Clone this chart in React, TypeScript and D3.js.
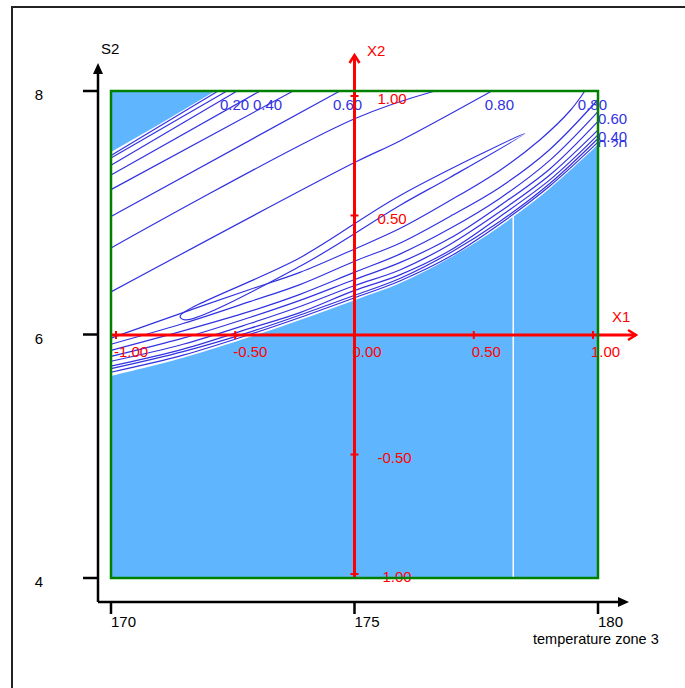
import React from "react";
import * as d3 from "d3";

// natural axes
const tempTicks = [170, 175, 180];
const s2Ticks = [4, 6, 8];
// coded axes X1 / X2
const codedTicks = [-1, -0.5, 0, 0.5, 1];

// edge of the white (defined) region, lower side
const edgeTemp = [170, 171.48, 172.85, 173.88, 174.99, 175.93, 176.96, 177.99, 179.01, 180];
const edgeS2 = [5.66, 5.81, 5.98, 6.12, 6.28, 6.42, 6.63, 6.89, 7.2, 7.56];
// blue corner top-left
const cornerEdge = [[170, 7.5], [171.01, 7.73], [172.14, 8]];
// white column inside the blue part
const gapLine = [[178.26, 4], [178.26, 7.0]];

// contour lines above the ridge (left edge -> top edge)
const upperLevels = [0.1, 0.2, 0.3, 0.4, 0.5, 0.6, 0.7, 0.8];
const upperLines = [
  [[170, 7.47], [172.2, 8]],
  [[170, 7.45], [172.38, 8]],
  [[170, 7.39], [172.59, 8]],
  [[170, 7.31], [173.06, 8]],
  [[170, 7.19], [173.74, 8]],
  [[170, 6.97], [174.7, 8]],
  [[170, 6.71], [174.99, 7.77], [176.65, 8]],
  [[170, 6.35], [174.99, 7.41], [175.93, 7.59], [177.82, 8]],
];

// contour lines below the ridge, same temperatures as edgeTemp
const lowerLevels = [0.1, 0.2, 0.3, 0.4, 0.5, 0.6, 0.7];
const lowerS2 = [
  [5.69, 5.83, 6.0, 6.14, 6.3, 6.44, 6.64, 6.91, 7.22, 7.58],
  [5.72, 5.86, 6.02, 6.16, 6.32, 6.46, 6.67, 6.93, 7.24, 7.61],
  [5.74, 5.88, 6.05, 6.18, 6.36, 6.49, 6.69, 6.97, 7.27, 7.64],
  [5.78, 5.92, 6.09, 6.23, 6.4, 6.53, 6.74, 7.01, 7.31, 7.68],
  [5.82, 5.97, 6.14, 6.28, 6.45, 6.59, 6.79, 7.06, 7.36, 7.75],
  [5.87, 6.03, 6.19, 6.33, 6.51, 6.66, 6.87, 7.12, 7.43, 7.83],
  [5.92, 6.09, 6.27, 6.41, 6.6, 6.75, 6.97, 7.21, 7.52, 7.93],
];
const lower08 = [[170, 5.97], [171.48, 6.18], [172.85, 6.37], [173.88, 6.51], [174.99, 6.7],
  [175.93, 6.87], [176.96, 7.1], [177.99, 7.35], [178.81, 7.6], [179.43, 7.84], [179.73, 8]];

// closed 0.90 contour along the ridge
const ridgeLoop = [[171.42, 6.15], [173.88, 6.63], [175.93, 7.14], [178.5, 7.65],
  [176.96, 7.29], [175.93, 7.06], [173.88, 6.56], [171.52, 6.12]];

const labelLevels = [0.2, 0.4, 0.6, 0.8];

const FONT = "'Liberation Sans', Arial, sans-serif";
const BLUE = "#3232e2";
const FILL = "#5fb6fe";
const RED = "#ff0000";

export default function App() {
  const x = d3.scaleLinear().domain([170, 180]).range([111, 598]);
  const y = d3.scaleLinear().domain([4, 8]).range([578, 91]);
  const x1 = d3.scaleLinear().domain([-1, 1]).range([116, 593]);
  const x2 = d3.scaleLinear().domain([-1, 1]).range([574, 96]);

  const line = d3.line<number[]>().x((d) => x(d[0])).y((d) => y(d[1])).curve(d3.curveCatmullRom);
  const loopLine = d3.line<number[]>().x((d) => x(d[0])).y((d) => y(d[1])).curve(d3.curveCatmullRomClosed);
  const straight = d3.line<number[]>().x((d) => x(d[0])).y((d) => y(d[1]));
  const lowerArea = d3.area<number>()
    .x((d, i) => x(edgeTemp[i]))
    .y0(y(4))
    .y1((d) => y(d))
    .curve(d3.curveCatmullRom);
  const cornerArea = d3.area<number[]>().x((d) => x(d[0])).y0((d) => y(d[1])).y1(y(8));

  const contours: { level: number; pts: number[][] }[] = [];
  upperLines.forEach((pts, i) => contours.push({ level: upperLevels[i], pts }));
  lowerS2.forEach((row, i) =>
    contours.push({ level: lowerLevels[i], pts: row.map((s, j) => [edgeTemp[j], s]) })
  );
  contours.push({ level: 0.8, pts: lower08 });

  const top = y(8);
  const right = x(180);
  const x0 = x1(0);
  const y0 = x2(0);

  return (
    <svg width={685} height={688} style={{ position: "absolute", left: 0, top: 0, background: "#fff" }}
      fontFamily={FONT}>
      <defs>
        <clipPath id="lblclip">
          <rect x={0} y={0} width={685} height={147} />
        </clipPath>
      </defs>
      {/* outer frame */}
      <path d="M12,688 V7 H685" fill="none" stroke="#222" strokeWidth={2} />

      {/* blue undefined region */}
      <path d={lowerArea(edgeS2) || ""} fill={FILL} />
      <path d={cornerArea(cornerEdge) || ""} fill={FILL} />
      <path d={straight(gapLine) || ""} stroke="#fff" strokeWidth={1.5} />

      {/* contour lines */}
      {contours.map((c, i) => (
        <path key={i} d={line(c.pts) || ""} fill="none" stroke={BLUE} strokeWidth={1.2} />
      ))}
      <path d={loopLine(ridgeLoop) || ""} fill="none" stroke={BLUE} strokeWidth={1.2} />

      {/* contour labels */}
      {contours.filter((c) => labelLevels.includes(c.level)).map((c, i) => {
        const end = c.pts[c.pts.length - 1];
        const ex = x(end[0]);
        const ey = y(end[1]);
        const atTop = end[1] >= 7.99;
        return (
          <text key={i} x={atTop ? ex - 7 : right} y={atTop ? top + 19 : ey + 12}
            fontSize={15} fill={BLUE} clipPath={atTop ? undefined : "url(#lblclip)"}>
            {c.level.toFixed(2)}
          </text>
        );
      })}

      {/* coded axes */}
      <line x1={x(170)} x2={636} y1={y0} y2={y0} stroke={RED} strokeWidth={3} />
      <path d={`M${628},${y0 - 5} L${636},${y0} L${628},${y0 + 5}`} fill="none" stroke={RED} strokeWidth={2.5} />
      <line x1={x0} x2={x0} y1={y(4)} y2={55} stroke={RED} strokeWidth={3} />
      <path d={`M${x0 - 5},${63} L${x0},${55} L${x0 + 5},${63}`} fill="none" stroke={RED} strokeWidth={2.5} />
      {codedTicks.map((t) => (
        <g key={"c" + t}>
          <line x1={x1(t)} x2={x1(t)} y1={y0 - 4} y2={y0 + 4} stroke={RED} strokeWidth={2} />
          <text x={x1(t) - 2} y={y0 + 22} fontSize={15} fill={RED}>{t.toFixed(2)}</text>
          <line x1={x0 - 4} x2={x0 + 4} y1={x2(t)} y2={x2(t)} stroke={RED} strokeWidth={2} />
          {t !== 0 && (
            <text x={x0 + 23} y={x2(t) + 8} fontSize={15} fill={RED}>{t.toFixed(2)}</text>
          )}
        </g>
      ))}
      <text x={612} y={322} fontSize={15} fill={RED}>X1</text>
      <text x={367} y={56} fontSize={15} fill={RED}>X2</text>

      {/* plot frame */}
      <rect x={x(170)} y={top} width={right - x(170)} height={y(4) - top}
        fill="none" stroke="#008000" strokeWidth={2.5} />

      {/* natural axes */}
      <line x1={98} x2={98} y1={602} y2={70} stroke="#000" strokeWidth={2.5} />
      <path d="M93,74 L98,63 L103,74 Z" fill="#000" />
      <line x1={98} x2={622} y1={602} y2={602} stroke="#000" strokeWidth={2.5} />
      <path d="M618,597 L629,602 L618,607 Z" fill="#000" />
      {tempTicks.map((t) => (
        <g key={"t" + t}>
          <line x1={x(t)} x2={x(t)} y1={602} y2={614} stroke="#000" strokeWidth={2.5} />
          <text x={x(t)} y={627} fontSize={15} fill="#000">{t}</text>
        </g>
      ))}
      {s2Ticks.map((t) => (
        <g key={"s" + t}>
          <line x1={83} x2={98} y1={y(t)} y2={y(t)} stroke="#000" strokeWidth={2.5} />
          <text x={43} y={y(t) + 9} fontSize={15} fill="#000" textAnchor="end">{t}</text>
        </g>
      ))}
      <text x={101} y={54} fontSize={15} fill="#000">S2</text>
      <text x={533} y={644} fontSize={14.5} fill="#000">temperature zone 3</text>
    </svg>
  );
}
